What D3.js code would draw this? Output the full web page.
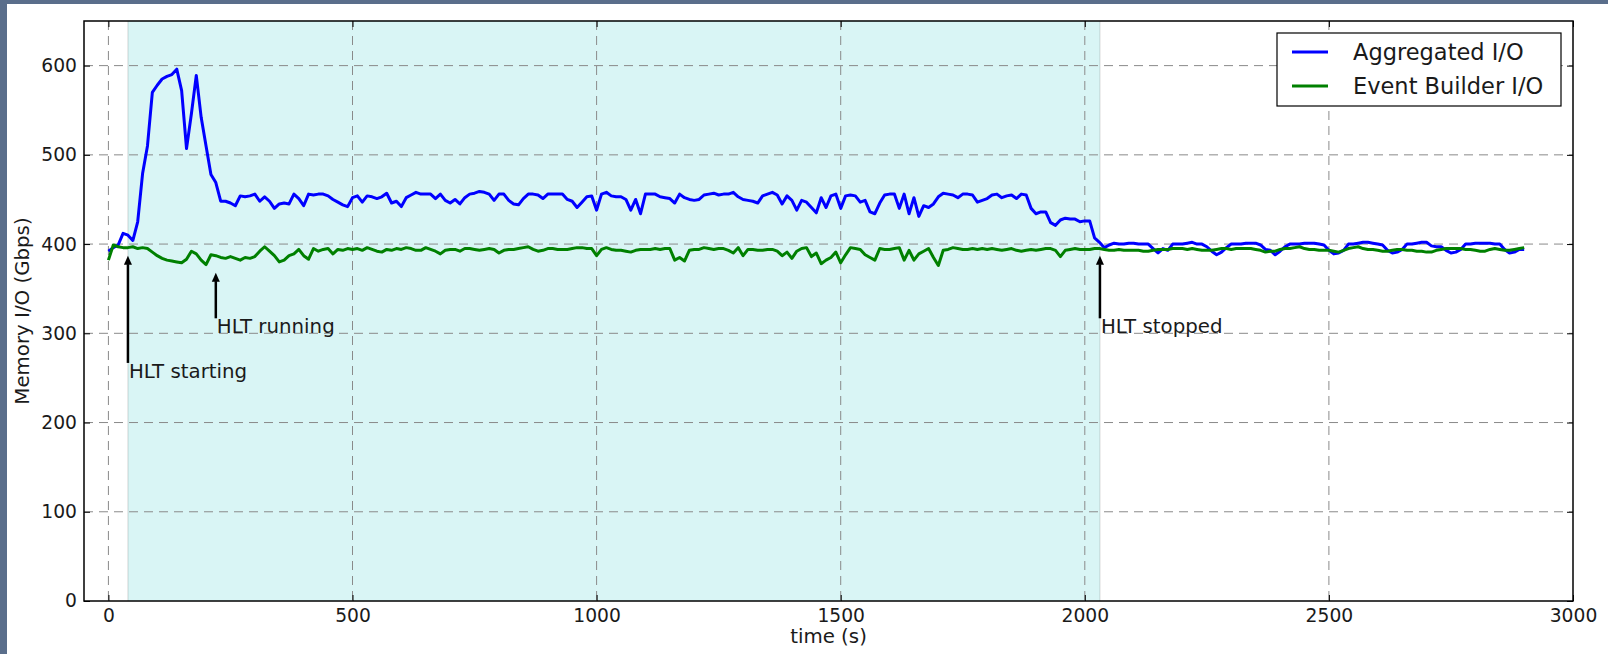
<!DOCTYPE html>
<html>
<head>
<meta charset="utf-8">
<script src="https://cdn.jsdelivr.net/npm/d3@7"></script>
<style>
  html, body { margin: 0; padding: 0; background: #5a6e8b; }
  svg { display: block; }
</style>
</head>
<body>
<svg id="chart" width="1608" height="654"></svg>
<script>
// ---------------- DATA ----------------
const timeStep = 10;  // seconds between samples, first sample at t = 0
const aggregatedIO = [
  392,396,399,412,410,404,425,479,510,570,
  578,585,588,590,596,572,507,546,589,542,
  510,478,469,448,448,446,443,454,453,454,
  456,448,453,448,440,445,446,445,456,451,
  443,456,455,456,456,454,450,447,444,442,
  452,454,447,454,453,451,453,457,446,448,
  442,452,455,458,456,456,456,451,456,449,
  446,450,445,452,456,457,459,458,456,449,
  456,456,449,445,444,451,456,456,455,451,
  456,456,456,456,450,448,441,447,453,454,
  438,456,458,454,453,453,450,438,450,434,
  456,456,456,453,452,451,446,456,452,450,
  449,450,455,456,457,455,456,456,458,453,
  450,449,448,446,454,456,458,455,445,454,
  449,438,449,447,441,435,452,441,454,456,
  440,454,455,454,447,449,436,434,446,455,
  456,456,440,456,434,452,431,443,441,445,
  453,457,456,455,452,456,456,455,447,449,
  451,455,456,452,454,455,451,456,455,440,
  434,436,436,424,421,427,429,428,428,425,
  426,426,407,402,396,399,401,400,400,401,
  401,400,400,400,395,390,395,393,400,400,
  400,401,402,400,400,397,392,388,391,396,
  400,400,400,401,401,401,399,394,393,388,
  392,397,400,400,400,401,401,401,400,399,
  393,389,390,393,400,400,401,402,402,401,
  400,399,393,390,391,394,400,400,401,402,
  402,398,397,397,393,390,391,394,400,400,
  401,401,401,401,400,400,394,390,391,394,
  394
];
const eventBuilderIO = [
  382,399,397,396,396,397,395,396,395,391,
  387,384,382,381,380,379,383,392,389,382,
  377,388,387,385,384,386,384,382,385,384,
  386,392,397,392,387,380,382,387,389,394,
  387,383,395,392,394,395,389,394,393,395,
  394,395,393,396,394,392,391,394,393,395,
  394,396,395,393,393,396,394,392,389,393,
  394,394,392,395,395,394,393,394,395,394,
  390,393,394,394,395,396,397,394,392,393,
  395,395,394,394,394,395,396,396,395,395,
  387,394,396,394,393,393,392,391,393,394,
  394,394,395,394,395,395,382,385,381,393,
  394,394,396,395,394,395,395,393,390,396,
  387,394,394,393,393,394,394,392,387,391,
  384,392,395,396,386,390,378,382,385,391,
  379,388,396,395,394,388,385,382,395,394,
  394,395,396,382,393,382,389,392,395,385,
  376,393,394,396,395,394,394,395,394,395,
  394,395,394,393,394,395,393,392,393,394,
  393,394,395,395,393,386,393,394,395,394,
  394,394,395,395,394,393,393,394,393,393,
  393,393,392,392,393,394,394,394,395,395,
  395,394,395,394,393,393,393,394,395,395,
  394,395,395,395,395,394,393,391,392,392,
  394,395,395,396,397,395,394,394,393,393,
  393,392,391,393,395,396,397,395,394,394,
  393,392,392,393,394,394,393,393,392,392,
  391,391,393,394,395,395,395,395,394,394,
  393,392,392,394,395,394,393,393,394,395,
  396
];
const seriesNames = ["Aggregated I/O", "Event Builder I/O"];
const seriesColors = ["#0000ff", "#008000"];
const xTicks = [0, 500, 1000, 1500, 2000, 2500, 3000];
const yTicks = [0, 100, 200, 300, 400, 500, 600];
const xDomain = [-50, 3000];
const yDomain = [0, 650];
const hltSpan = [40, 2031];
const annotations = [
  { label: "HLT starting", x: 40,   tip: 387, text: 250 },
  { label: "HLT running",  x: 220,  tip: 368, text: 300 },
  { label: "HLT stopped",  x: 2031, tip: 387, text: 300 }
];
const xLabel = "time (s)";
const yLabel = "Memory I/O (Gbps)";

// ---------------- LAYOUT ----------------
const W = 1608, H = 654;
const plot = { left: 84, right: 1573, top: 21, bottom: 601 };
const FONT = "'DejaVu Sans', sans-serif";
const tickFont = 18.7;
const labelFont = 19.8;

const svg = d3.select("#chart");
svg.append("rect").attr("x", 7).attr("y", 4).attr("width", W - 7).attr("height", H - 4).attr("fill", "#ffffff");

const x = d3.scaleLinear().domain(xDomain).range([plot.left, plot.right]);
const y = d3.scaleLinear().domain(yDomain).range([plot.bottom, plot.top]);

// shaded span
svg.append("rect")
  .attr("x", x(hltSpan[0])).attr("y", plot.top)
  .attr("width", x(hltSpan[1]) - x(hltSpan[0])).attr("height", plot.bottom - plot.top)
  .attr("fill", "rgba(0,191,191,0.15)");
[hltSpan[0], hltSpan[1]].forEach(v => {
  svg.append("line").attr("x1", x(v)).attr("x2", x(v)).attr("y1", plot.top).attr("y2", plot.bottom)
    .attr("stroke", "rgba(0,0,0,0.13)").attr("stroke-width", 1.2);
});

// grid
const grid = svg.append("g").attr("stroke", "#8a8a8a").attr("stroke-width", 1).attr("stroke-dasharray", "9,6").attr("fill", "none");
xTicks.filter(t => t < xDomain[1]).forEach(t => {
  grid.append("line").attr("x1", x(t)).attr("x2", x(t)).attr("y1", plot.top).attr("y2", plot.bottom);
});
yTicks.filter(t => t > yDomain[0]).forEach(t => {
  grid.append("line").attr("x1", plot.left).attr("x2", plot.right).attr("y1", y(t)).attr("y2", y(t));
});

// lines
const line = d3.line().x((d, i) => x(i * timeStep)).y(d => y(d));
[aggregatedIO, eventBuilderIO].forEach((s, k) => {
  svg.append("path").datum(s).attr("d", line)
    .attr("fill", "none").attr("stroke", seriesColors[k]).attr("stroke-width", 3)
    .attr("stroke-linejoin", "round").attr("stroke-linecap", "butt");
});

// annotations
const ann = svg.append("g");
annotations.forEach(a => {
  const ax = x(a.x), tipY = y(a.tip), tailY = y(a.text) - 15;
  const headLen = 9, headW = 8, shaft = 2.5;
  ann.append("rect").attr("x", ax - shaft / 2).attr("y", tipY + headLen - 0.5)
    .attr("width", shaft).attr("height", tailY - tipY - headLen + 0.5).attr("fill", "#000");
  ann.append("path")
    .attr("d", `M${ax},${tipY} L${ax - headW / 2},${tipY + headLen} L${ax + headW / 2},${tipY + headLen} Z`)
    .attr("fill", "#000");
  ann.append("text").attr("x", ax + 1).attr("y", y(a.text))
    .attr("font-family", FONT).attr("font-size", labelFont).attr("fill", "#1a1a1a")
    .text(a.label);
});

// axes
function styleAxis(g) {
  g.attr("font-family", FONT).attr("font-size", tickFont);
  g.select(".domain").remove();
  g.selectAll(".tick line").attr("stroke", "#000").attr("stroke-width", 1);
  g.selectAll(".tick text").attr("fill", "#1a1a1a");
}
svg.append("g").attr("transform", `translate(0,${plot.bottom})`)
  .call(d3.axisBottom(x).tickValues(xTicks).tickSizeInner(-6).tickSizeOuter(0).tickPadding(8).tickFormat(d3.format("d")))
  .call(styleAxis);
svg.append("g").attr("transform", `translate(0,${plot.top})`)
  .call(d3.axisTop(x).tickValues(xTicks).tickSizeInner(-6).tickSizeOuter(0).tickFormat(""))
  .call(styleAxis);
svg.append("g").attr("transform", `translate(${plot.left},0)`)
  .call(d3.axisLeft(y).tickValues(yTicks).tickSizeInner(-6).tickSizeOuter(0).tickPadding(7).tickFormat(d3.format("d")))
  .call(styleAxis);
svg.append("g").attr("transform", `translate(${plot.right},0)`)
  .call(d3.axisRight(y).tickValues(yTicks).tickSizeInner(-6).tickSizeOuter(0).tickFormat(""))
  .call(styleAxis);

// frame
svg.append("rect").attr("x", plot.left).attr("y", plot.top)
  .attr("width", plot.right - plot.left).attr("height", plot.bottom - plot.top)
  .attr("fill", "none").attr("stroke", "#000").attr("stroke-width", 1.5);

// axis labels
svg.append("text").attr("x", (plot.left + plot.right) / 2).attr("y", 643)
  .attr("text-anchor", "middle").attr("font-family", FONT).attr("font-size", labelFont).attr("fill", "#1a1a1a")
  .text(xLabel);
svg.append("text").attr("transform", `translate(29,${(plot.top + plot.bottom) / 2}) rotate(-90)`)
  .attr("text-anchor", "middle").attr("font-family", FONT).attr("font-size", labelFont).attr("fill", "#1a1a1a")
  .text(yLabel);

// legend
const lg = svg.append("g");
lg.append("rect").attr("x", 1277).attr("y", 33).attr("width", 284).attr("height", 73)
  .attr("fill", "#fff").attr("stroke", "#000").attr("stroke-width", 1.2);
seriesNames.forEach((n, k) => {
  const ly = 52 + k * 34;
  lg.append("line").attr("x1", 1292).attr("x2", 1328).attr("y1", ly).attr("y2", ly)
    .attr("stroke", seriesColors[k]).attr("stroke-width", 3);
  lg.append("text").attr("x", 1353).attr("y", ly + 8.3)
    .attr("font-family", FONT).attr("font-size", 22.5).attr("fill", "#1a1a1a").text(n);
});
</script>
</body>
</html>
